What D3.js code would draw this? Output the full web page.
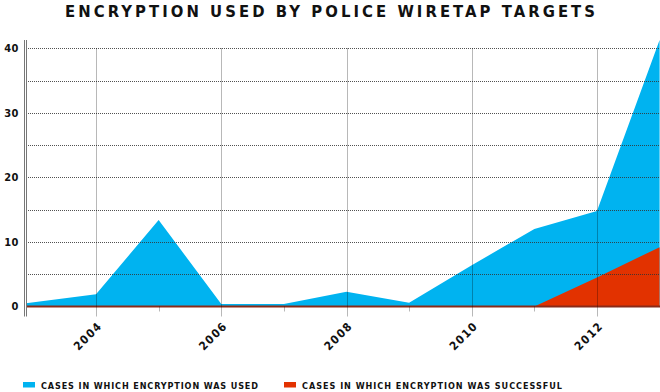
<!DOCTYPE html>
<html>
<head>
<meta charset="utf-8">
<script src="https://cdn.jsdelivr.net/npm/d3@7"></script>
<style>
  html, body { margin: 0; padding: 0; background: #fff; }
  svg { display: block; }
  text { font-family: "DejaVu Sans Condensed", "DejaVu Sans", sans-serif; font-weight: bold; fill: #111; }
</style>
</head>
<body>
<svg id="chart" width="660" height="392"></svg>
<script>
const title = "ENCRYPTION USED BY POLICE WIRETAP TARGETS";
const years = [2003, 2004, 2005, 2006, 2007, 2008, 2009, 2010, 2011, 2012, 2013];
const usedValues = [0.5, 1.9, 13.4, 0.4, 0.4, 2.3, 0.6, 6.4, 12.0, 14.8, 41.3];
const successValues = [0, 0, 0, 0, 0, 0, 0, 0, 0, 4.5, 9.2];
const seriesNames = ["CASES IN WHICH ENCRYPTION WAS USED", "CASES IN WHICH ENCRYPTION WAS SUCCESSFUL"];
const seriesColors = ["#00b3f0", "#e23200"];
const yTicks = [0, 10, 20, 30, 40];
const yGrid = [5, 10, 15, 20, 25, 30, 35, 40];
const xLabelYears = [2004, 2006, 2008, 2010, 2012];
const xMinorYears = [2005, 2007, 2009, 2011, 2013];

const svg = d3.select("#chart");
const plotLeft = 26, plotRight = 660, plotTop = 40, plotBottom = 306.5;

const x = d3.scaleLinear().domain([2003, 2013]).range([33.4, 659.6]);
const y = d3.scaleLinear().domain([0, d3.max(usedValues)]).range([plotBottom, plotTop]);

const used = years.map((yr, i) => ({ year: yr, v: usedValues[i] }));
const success = years.map((yr, i) => ({ year: yr, v: successValues[i] }));

const xPos = (d, i) => i === 0 ? plotLeft : x(d.year);
const area = d3.area().x(xPos).y0(y(0)).y1(d => y(d.v));

// Title
svg.append("text")
  .attr("x", 65).attr("y", 17)
  .attr("textLength", 530).attr("lengthAdjust", "spacing")
  .style("font-size", "16.5px")
  .text(title);

// Areas
svg.append("path").datum(used).attr("d", area).attr("fill", seriesColors[0]);
svg.append("path").datum(success).attr("d", area).attr("fill", seriesColors[1]);

// Baseline
svg.append("line").attr("x1", plotLeft).attr("x2", plotRight)
  .attr("y1", y(0)).attr("y2", y(0))
  .attr("stroke", "#8a2a18").attr("stroke-width", 2);

// Horizontal dotted grid
svg.append("g").selectAll("line").data(yGrid).join("line")
  .attr("x1", plotLeft).attr("x2", plotRight)
  .attr("y1", d => Math.round(y(d)) + 0.5).attr("y2", d => Math.round(y(d)) + 0.5)
  .attr("stroke", "#333").attr("stroke-width", 1).attr("stroke-dasharray", "1,1")
  .attr("stroke-opacity", 0.85);

// Vertical grid at labelled years
svg.append("g").selectAll("line").data(xLabelYears).join("line")
  .attr("x1", d => Math.round(x(d)) + 0.5).attr("x2", d => Math.round(x(d)) + 0.5)
  .attr("y1", Math.round(y(d3.max(yGrid)))).attr("y2", plotBottom + 10)
  .attr("stroke", "#000").attr("stroke-opacity", 0.28);

// Minor ticks
svg.append("g").selectAll("line").data(xMinorYears).join("line")
  .attr("x1", d => Math.round(x(d)) + 0.5).attr("x2", d => Math.round(x(d)) + 0.5)
  .attr("y1", plotBottom).attr("y2", plotBottom + 5)
  .attr("stroke", "#000").attr("stroke-opacity", 0.28);

// Double y axis line
[24.5, 26.5].forEach(px => {
  svg.append("line").attr("x1", px).attr("x2", px)
    .attr("y1", plotTop).attr("y2", plotBottom + 10)
    .attr("stroke", "#777").attr("stroke-width", 1);
});

// Y tick labels
svg.append("g").selectAll("text").data(yTicks).join("text")
  .attr("x", 19).attr("y", d => y(d)).attr("dy", "0.36em")
  .attr("text-anchor", "end")
  .style("font-size", "11px")
  .style("letter-spacing", "0.5px")
  .text(d => d);

// X labels rotated
svg.append("g").selectAll("text").data(xLabelYears).join("text")
  .attr("transform", d => `translate(${x(d) + 7},${plotBottom + 20}) rotate(-45)`)
  .attr("text-anchor", "end")
  .style("font-size", "11.5px")
  .style("letter-spacing", "1.5px")
  .text(d => d);

// Legend
const legendX = [23, 284];
const legendEnd = [258, 562];
seriesNames.forEach((name, i) => {
  svg.append("rect").attr("x", legendX[i]).attr("y", 382).attr("width", 12).attr("height", 5.5)
    .attr("fill", seriesColors[i]);
  svg.append("text").attr("x", legendX[i] + 18).attr("y", 388.7)
    .attr("textLength", legendEnd[i] - legendX[i] - 18).attr("lengthAdjust", "spacing")
    .style("font-size", "9px")
    .text(name);
});
</script>
</body>
</html>
